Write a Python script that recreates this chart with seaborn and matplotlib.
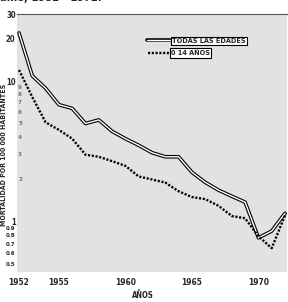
import matplotlib
matplotlib.use("Agg")
import matplotlib.pyplot as plt
import matplotlib.transforms as mtransforms
import pandas as pd
import seaborn as sns
from matplotlib.lines import Line2D

# ---- data ----
years = list(range(1952, 1973))
todas_edades = [22.0, 10.9, 8.9, 6.8, 6.4, 5.0, 5.3, 4.4, 3.9, 3.5, 3.1,
                2.9, 2.9, 2.25, 1.91, 1.68, 1.52, 1.38, 0.77, 0.86, 1.15]
edad_0_14 = [12.0, 7.7, 5.1, 4.5, 3.9, 3.0, 2.9, 2.7, 2.5, 2.1, 2.0,
             1.9, 1.65, 1.5, 1.45, 1.3, 1.1, 1.06, 0.79, 0.65, 1.11]
serie_labels = ["TODAS LAS EDADES", "0 14 AÑOS"]
ytick_vals = [30, 20, 10, 1, 0.9, 0.8, 0.7, 0.6, 0.5]
ytick_labels = ["30", "20", "10", "1", "0.9", "0.8", "0.7", "0.6", "0.5"]
ymid_vals = [9, 8, 7, 6, 5, 4, 3, 2]
ymid_labels = ["9", "8", "7", "6", "5", "4", "3", "2"]
xtick_vals = [1952, 1955, 1960, 1965, 1970]
title_text = "ame, 1952 - 1972."
ylabel_text = "MORTALIDAD POR 100 000 HABITANTES"
xlabel_text = "AÑOS"

df = pd.DataFrame({"year": years, "todas": todas_edades, "ninos": edad_0_14})

sns.set_theme(style="white")
plt.rcParams["font.family"] = ["DejaVu Sans"]
plt.rcParams["font.stretch"] = "condensed"

W, H = 288, 302
fig = plt.figure(figsize=(W / 100, H / 100), dpi=100)
L, R, T, B = 17, 287, 14, 272
ax = fig.add_axes([L / W, 1 - B / H, (R - L) / W, (B - T) / H])
ax.set_facecolor("#e2e2e2")

# double (hollow) line: all ages
sns.lineplot(data=df, x="year", y="todas", ax=ax, color="black", lw=2.6,
             legend=False)
sns.lineplot(data=df, x="year", y="todas", ax=ax, color="white", lw=1.0,
             legend=False)
# dotted line: 0-14
sns.lineplot(data=df, x="year", y="ninos", ax=ax, color="black", lw=1.7,
             legend=False)
ax.lines[-1].set_linestyle((0, (0.9, 0.7)))

ax.set_yscale("log")
ax.set_ylim(0.44, 30)
ax.set_xlim(1951.85, 1972.15)
ax.set_yticks(ytick_vals)
ax.set_yticklabels(ytick_labels)
ax.minorticks_off()
ax.set_xticks(xtick_vals)
ax.set_xticklabels([str(v) for v in xtick_vals])
ax.tick_params(axis="y", length=0, labelsize=5.5, pad=1)
ax.tick_params(axis="x", length=0, labelsize=6, pad=4)
for lab in ax.get_yticklabels() + ax.get_xticklabels():
    lab.set_fontweight("bold")
for lab in ax.get_yticklabels():
    if lab.get_text().startswith("0."):
        lab.set_fontsize(4.3)

# faint intermediate scale labels, drawn just inside the axis
blend = mtransforms.blended_transform_factory(ax.transAxes, ax.transData)
for v, t in zip(ymid_vals, ymid_labels):
    ax.text(0.004, v, t, transform=blend, fontsize=4.5, fontweight="bold",
            color="#777777", va="center", ha="left")

ax.set_xlabel(xlabel_text, fontsize=5.5, fontweight="bold")
ax.xaxis.set_label_coords((143 - L) / (R - L), -(296 - B) / (B - T))
ax.xaxis.label.set_verticalalignment("center")
ax.set_ylabel(ylabel_text, fontsize=5.0, fontweight="bold")
ax.yaxis.set_label_coords(-(L - 4) / (R - L), (B - 155) / (B - T))
ax.yaxis.label.set_verticalalignment("center")

for s in ["left", "right", "bottom"]:
    ax.spines[s].set_visible(False)
ax.spines["top"].set_color("#555555")
ax.spines["top"].set_linewidth(0.8)

# legend (samples + boxed labels)
def ax_xy(px, py):
    return ((px - L) / (R - L), (B - py) / (B - T))

x0, y0 = ax_xy(147, 40)
x1, _ = ax_xy(170, 40)
ax.add_line(Line2D([x0, x1], [y0, y0], transform=ax.transAxes, color="black", lw=2.6))
ax.add_line(Line2D([x0, x1], [y0, y0], transform=ax.transAxes, color="white", lw=1.0))
x0, y1 = ax_xy(148, 53)
x1, _ = ax_xy(169, 53)
ax.add_line(Line2D([x0, x1], [y1, y1], transform=ax.transAxes, color="black", lw=1.7,
                   linestyle=(0, (0.9, 0.7))))
tx, ty = ax_xy(172, 41)
ax.text(tx, ty, serie_labels[0], transform=ax.transAxes, fontsize=5.2, fontweight="bold",
        va="center", ha="left",
        bbox=dict(boxstyle="square,pad=0.2", fc="white", ec="black", lw=0.8))
tx, ty = ax_xy(171, 53)
ax.text(tx, ty, serie_labels[1], transform=ax.transAxes, fontsize=5.2, fontweight="bold",
        va="center", ha="left",
        bbox=dict(boxstyle="square,pad=0.2", fc="white", ec="black", lw=0.8))

fig.text(0.0, 1.008, title_text, fontsize=8, fontweight="bold", va="center", ha="left")

fig.savefig("out.png", dpi=100)
